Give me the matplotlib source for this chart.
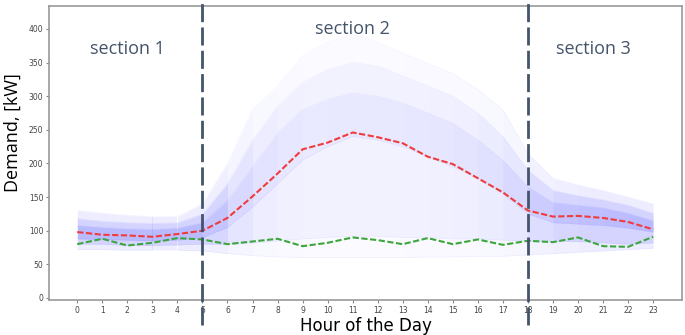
import numpy as np
import matplotlib
matplotlib.use('Agg')
import matplotlib.pyplot as plt

hours = list(range(24))

# mean and minimum-like profiles
mean_kw = [98, 94, 93, 91, 95, 100, 119, 151, 185, 221, 231, 246, 239, 230, 210,
           199, 178, 157, 130, 121, 122, 119, 113, 102]
low_kw = [80, 88, 78, 82, 89, 87, 80, 84, 88, 77, 82, 90, 86, 80, 89,
          80, 87, 79, 85, 83, 90, 77, 76, 91]

# spread of the individual daily profiles (outer, 10-90 %, dense core)
env_lo = [72, 72, 71, 71, 71, 70, 66, 63, 61, 60, 60, 60, 60, 60, 61,
          61, 62, 62, 64, 66, 68, 70, 72, 74]
env_hi = [130, 126, 123, 121, 121, 140, 200, 280, 315, 360, 380, 392, 380, 364, 349,
          334, 310, 280, 215, 178, 168, 160, 150, 140]
mid_lo = [80, 80, 78, 78, 79, 80, 80, 82, 85, 88, 90, 92, 92, 90, 90,
          88, 88, 86, 85, 84, 84, 82, 80, 82]
mid_hi = [118, 114, 112, 111, 112, 125, 170, 235, 285, 320, 340, 350, 345, 330, 315,
          300, 275, 240, 190, 160, 152, 146, 138, 126]
core_lo = [88, 87, 86, 85, 86, 90, 105, 135, 170, 205, 225, 240, 235, 225, 210,
           195, 178, 155, 125, 112, 110, 108, 104, 98]
core_hi = [108, 105, 103, 102, 104, 112, 145, 195, 245, 280, 295, 305, 300, 290, 275,
           260, 235, 205, 165, 142, 138, 134, 126, 115]

sections = ['section 1', 'section 2', 'section 3']
section_x = [2.0, 11.0, 20.6]
section_y = [370, 400, 370]
boundaries = [5, 18]

slate = '#44546a'
blue = '#0000ff'


def shade(ax, lo, hi, k, cap):
    # narrow band = many profiles packed together = darker
    for i in range(len(hours) - 1):
        w = (hi[i] - lo[i] + hi[i + 1] - lo[i + 1]) / 2
        a = min(cap, k / w)
        ax.fill_between(hours[i:i + 2], lo[i:i + 2], hi[i:i + 2],
                        color=blue, alpha=a, lw=0, antialiased=False)


fig = plt.figure(figsize=(6.85, 3.35), dpi=100)
ax = fig.add_axes([0.0715, 0.1045, 0.924, 0.8775])

shade(ax, env_lo, env_hi, 6.6, 0.07)
shade(ax, mid_lo, mid_hi, 7.7, 0.10)
shade(ax, core_lo, core_hi, 2.6, 0.12)
for arr in [env_hi, mid_hi, core_hi, core_lo, mid_lo, env_lo]:
    ax.plot(hours, arr, color=blue, alpha=0.04, lw=0.6)

ax.plot(hours, mean_kw, color='#f03c3c', lw=1.5, linestyle=(0, (3, 1.2)), zorder=5)
ax.plot(hours, low_kw, color='#3ca63c', lw=1.5, linestyle=(0, (3, 1.2)), zorder=5)

for b in boundaries:
    ax.axvline(b, ymin=-0.085, ymax=1.03, color=slate, lw=2.0,
               linestyle=(0, (6.5, 1.9)), clip_on=False, zorder=10)

for s, x, y in zip(sections, section_x, section_y):
    ax.text(x, y, s, ha='center', va='center', fontsize=13,
            family=['Open Sans', 'DejaVu Sans'], color=slate)

ax.set_xlim(-1.13, 24.15)
ax.set_ylim(-3, 434)
ax.set_xticks(hours)
ax.set_yticks(range(0, 401, 50))
ax.tick_params(labelsize=5.5, labelcolor='#444444', color='#888888', length=2, width=0.8, pad=2)
for sp in ax.spines.values():
    sp.set_color('#999999')
    sp.set_linewidth(1.2)

ax.set_xlabel('Hour of the Day', fontsize=12, family=['Liberation Sans Narrow', 'DejaVu Sans'],
              labelpad=2)
ax.set_ylabel('Demand, [kW]', fontsize=13, family=['Open Sans', 'DejaVu Sans'])
ax.yaxis.set_label_coords(-0.043, 0.571)

fig.savefig('out.png', dpi=100)
